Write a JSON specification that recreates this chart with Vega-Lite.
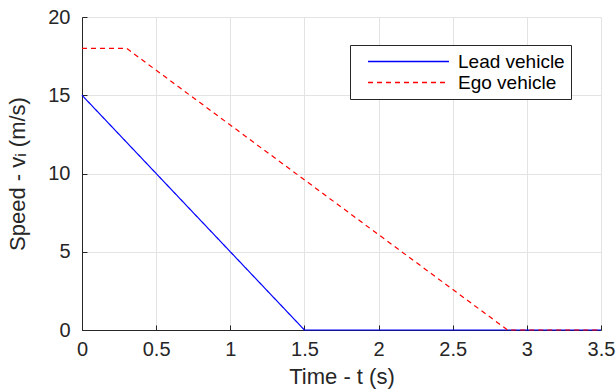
{
  "$schema": "https://vega.github.io/schema/vega-lite/v6.json",
  "width": 519,
  "height": 313,
  "autosize": "none",
  "padding": {"left": 82, "top": 17, "right": 15, "bottom": 62},
  "background": "white",
  "config": {
    "font": "Liberation Sans",
    "view": {"stroke": null},
    "axis": {
      "domainColor": "#262626",
      "tickColor": "#262626",
      "gridColor": "#e3e3e3",
      "labelColor": "#262626",
      "titleColor": "#262626",
      "labelFont": "Liberation Sans",
      "titleFont": "Liberation Sans",
      "labelFontSize": 20,
      "titleFontSize": 22,
      "titleFontWeight": "normal",
      "tickSize": -5,
      "format": "~g"
    }
  },
  "data": {
    "values": [
      {"t": 0, "v": 15, "s": "Lead vehicle"},
      {"t": 1.5, "v": 0, "s": "Lead vehicle"},
      {"t": 3.5, "v": 0, "s": "Lead vehicle"},
      {"t": 0, "v": 18, "s": "Ego vehicle"},
      {"t": 0.3, "v": 18, "s": "Ego vehicle"},
      {"t": 2.87, "v": 0, "s": "Ego vehicle"},
      {"t": 3.5, "v": 0, "s": "Ego vehicle"}
    ]
  },
  "mark": {"type": "line", "strokeWidth": 1.2},
  "encoding": {
    "x": {
      "field": "t", "type": "quantitative",
      "scale": {"domain": [0, 3.5], "nice": false},
      "axis": {"title": "Time - t (s)", "values": [0, 0.5, 1, 1.5, 2, 2.5, 3, 3.5], "labelPadding": 14, "titlePadding": 7, "labelFlush": false}
    },
    "y": {
      "field": "v", "type": "quantitative",
      "scale": {"domain": [0, 20], "nice": false},
      "axis": {"title": "Speed - vᵢ (m/s)", "values": [0, 5, 10, 15, 20], "labelPadding": 17, "titlePadding": 18}
    },
    "color": {
      "field": "s", "type": "nominal",
      "scale": {"domain": ["Lead vehicle", "Ego vehicle"], "range": ["#0000ff", "#ff0000"]},
      "legend": {
        "title": null, "orient": "none", "legendX": 268, "legendY": 28,
        "strokeColor": "#262626", "fillColor": "white", "padding": 6,
        "symbolType": "stroke", "symbolSize": 6561, "symbolStrokeWidth": 1.3, "symbolOffset": 11,
        "clipHeight": 21, "rowPadding": 0,
        "labelFontSize": 19, "labelColor": "#000000", "labelFont": "Liberation Sans",
        "labelOffset": 8, "labelLimit": 300,
        "encode": {"symbols": {"update": {
          "stroke": [{"test": "datum.value === 'Ego vehicle'", "value": "#ff0000"}, {"value": "#0000ff"}],
          "strokeDash": [{"test": "datum.value === 'Ego vehicle'", "value": [5, 4]}, {"value": [1, 0]}],
          "strokeOpacity": {"value": 1}
        }}}
      }
    },
    "strokeDash": {
      "field": "s", "type": "nominal",
      "scale": {"domain": ["Lead vehicle", "Ego vehicle"], "range": [[1, 0], [5, 4]]},
      "legend": null
    }
  }
}
